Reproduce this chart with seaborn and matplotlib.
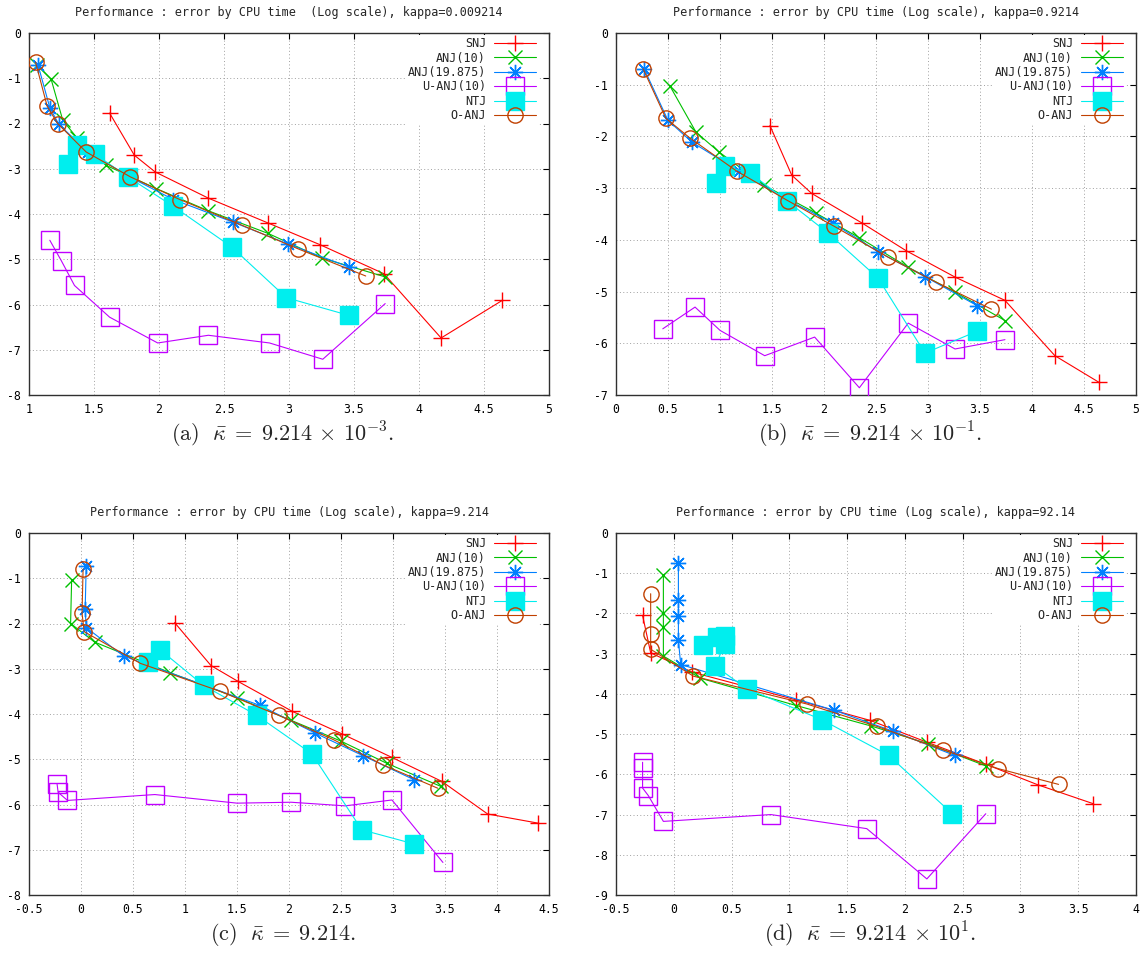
import numpy as np
import matplotlib
matplotlib.use("Agg")
import matplotlib.pyplot as plt
import seaborn as sns

# log10(CPU time) on x, log10(error) on y

# (a) kappa = 0.009214
A_SNJ_X = [1.62, 1.81, 1.97, 2.38, 2.84, 3.24, 3.73, 4.17, 4.64]
A_SNJ_Y = [-1.77, -2.70, -3.07, -3.65, -4.20, -4.68, -5.32, -6.74, -5.91]
A_ANJ10_X = [1.06, 1.17, 1.26, 1.37, 1.59, 1.98, 2.38, 2.84, 3.25, 3.74]
A_ANJ10_Y = [-0.70, -1.02, -1.93, -2.32, -2.92, -3.44, -3.93, -4.43, -4.97, -5.39]
A_ANJ19_X = [1.07, 1.16, 1.23, 1.45, 1.78, 2.11, 2.57, 2.99, 3.46]
A_ANJ19_Y = [-0.71, -1.65, -2.02, -2.62, -3.19, -3.68, -4.18, -4.66, -5.17]
A_UANJ_X = [1.16, 1.25, 1.35, 1.62, 1.99, 2.38, 2.85, 3.26, 3.74]
A_UANJ_Y = [-4.58, -5.04, -5.58, -6.28, -6.85, -6.68, -6.85, -7.21, -5.98]
A_NTJ_X = [1.30, 1.37, 1.51, 1.76, 2.11, 2.56, 2.98, 3.46]
A_NTJ_Y = [-2.89, -2.48, -2.68, -3.18, -3.83, -4.73, -5.85, -6.24]
A_OANJ_X = [1.05, 1.14, 1.22, 1.44, 1.78, 2.16, 2.64, 3.07, 3.59]
A_OANJ_Y = [-0.64, -1.62, -2.00, -2.63, -3.18, -3.68, -4.25, -4.77, -5.37]

# (b) kappa = 0.9214
B_SNJ_X = [1.48, 1.69, 1.88, 2.37, 2.79, 3.26, 3.74, 4.22, 4.64]
B_SNJ_Y = [-1.79, -2.75, -3.10, -3.68, -4.21, -4.72, -5.17, -6.24, -6.75]
B_ANJ10_X = [0.52, 0.77, 0.99, 1.42, 1.92, 2.34, 2.81, 3.26, 3.74]
B_ANJ10_Y = [-1.03, -1.92, -2.30, -2.94, -3.48, -3.96, -4.53, -5.01, -5.56]
B_ANJ19_X = [0.27, 0.50, 0.73, 1.18, 1.64, 2.09, 2.52, 2.97, 3.47]
B_ANJ19_Y = [-0.69, -1.69, -2.11, -2.67, -3.22, -3.68, -4.23, -4.71, -5.27]
B_UANJ_X = [0.45, 0.76, 1.00, 1.43, 1.91, 2.34, 2.81, 3.26, 3.74]
B_UANJ_Y = [-5.72, -5.30, -5.75, -6.24, -5.88, -6.86, -5.61, -6.11, -5.93]
B_NTJ_X = [0.96, 1.05, 1.29, 1.64, 2.04, 2.52, 2.97, 3.47]
B_NTJ_Y = [-2.90, -2.58, -2.71, -3.24, -3.87, -4.74, -6.19, -5.77]
B_OANJ_X = [0.26, 0.48, 0.71, 1.16, 1.65, 2.10, 2.62, 3.08, 3.61]
B_OANJ_Y = [-0.69, -1.65, -2.03, -2.67, -3.24, -3.74, -4.34, -4.82, -5.34]

# (c) kappa = 9.214
C_SNJ_X = [0.90, 1.25, 1.51, 2.03, 2.51, 2.99, 3.47, 3.91, 4.39]
C_SNJ_Y = [-1.98, -2.93, -3.28, -3.94, -4.44, -4.96, -5.49, -6.21, -6.41]
C_ANJ10_X = [-0.09, -0.10, 0.13, 0.86, 1.50, 2.02, 2.50, 2.94, 3.46]
C_ANJ10_Y = [-1.03, -2.00, -2.41, -3.09, -3.64, -4.14, -4.60, -5.09, -5.60]
C_ANJ19_X = [0.05, 0.04, 0.05, 0.41, 1.72, 2.25, 2.71, 3.20]
C_ANJ19_Y = [-0.74, -1.69, -2.09, -2.72, -3.81, -4.42, -4.92, -5.45]
C_UANJ_X = [-0.23, -0.22, -0.13, 0.71, 1.50, 2.02, 2.54, 2.99, 3.48]
C_UANJ_Y = [-5.55, -5.73, -5.91, -5.78, -5.97, -5.95, -6.03, -5.90, -7.28]
C_NTJ_X = [0.64, 0.76, 1.18, 1.69, 2.22, 2.70, 3.20]
C_NTJ_Y = [-2.85, -2.58, -3.37, -4.03, -4.88, -6.56, -6.87]
C_OANJ_X = [0.02, 0.01, 0.03, 0.57, 1.34, 1.90, 2.43, 2.90, 3.43]
C_OANJ_Y = [-0.80, -1.77, -2.18, -2.88, -3.50, -4.03, -4.57, -5.12, -5.64]

# (d) kappa = 92.14
D_SNJ_X = [-0.27, -0.20, 0.16, 1.06, 1.70, 2.19, 2.70, 3.15, 3.63]
D_SNJ_Y = [-2.05, -2.98, -3.46, -4.15, -4.66, -5.20, -5.75, -6.26, -6.73]
D_ANJ10_X = [-0.09, -0.09, -0.09, -0.09, 0.23, 1.06, 1.71, 2.20, 2.70]
D_ANJ10_Y = [-1.05, -1.99, -2.34, -3.06, -3.61, -4.29, -4.80, -5.24, -5.79]
D_ANJ19_X = [0.04, 0.04, 0.04, 0.04, 0.06, 1.39, 1.90, 2.43]
D_ANJ19_Y = [-0.75, -1.67, -2.07, -2.67, -3.27, -4.41, -4.93, -5.53]
D_UANJ_X = [-0.27, -0.27, -0.27, -0.22, -0.09, 0.84, 1.67, 2.19, 2.70]
D_UANJ_Y = [-5.70, -5.85, -6.34, -6.53, -7.17, -7.00, -7.35, -8.60, -6.98]
D_NTJ_X = [0.25, 0.37, 0.44, 0.44, 0.36, 0.63, 1.28, 1.86, 2.41]
D_NTJ_Y = [-2.79, -2.59, -2.57, -2.75, -3.31, -3.87, -4.64, -5.53, -6.98]
D_OANJ_X = [-0.20, -0.20, -0.20, 0.17, 1.15, 1.76, 2.33, 2.81, 3.33]
D_OANJ_Y = [-1.51, -2.50, -2.89, -3.56, -4.25, -4.81, -5.39, -5.86, -6.25]

NAMES = ["SNJ", "ANJ(10)", "ANJ(19.875)", "U-ANJ(10)", "NTJ", "O-ANJ"]
COLORS = ["#ff0000", "#00c000", "#0080ff", "#c000ff", "#00eeee", "#c04000"]
MARKERS = ["+", "x", (8, 2, 0), "s", "s", "o"]
SIZES = [11, 9.5, 11, 12.5, 12.5, 11]
FILLED = [False, False, False, False, True, False]

KAPPAS = ["0.009214", "0.9214", "9.214", "92.14"]
CAPTIONS = [r"$\mathrm{(a)}\ \ \bar{\kappa}\; =\; 9.214 \,\times\, 10^{-3}.$",
            r"$\mathrm{(b)}\ \ \bar{\kappa}\; =\; 9.214 \,\times\, 10^{-1}.$",
            r"$\mathrm{(c)}\ \ \bar{\kappa}\; =\; 9.214.$",
            r"$\mathrm{(d)}\ \ \bar{\kappa}\; =\; 9.214 \,\times\, 10^{1}.$"]
XLIMS = [(1, 5), (0, 5), (-0.5, 4.5), (-0.5, 4)]
YLIMS = [(-8, 0), (-7, 0), (-8, 0), (-9, 0)]

panels = [
    [(A_SNJ_X, A_SNJ_Y), (A_ANJ10_X, A_ANJ10_Y), (A_ANJ19_X, A_ANJ19_Y),
     (A_UANJ_X, A_UANJ_Y), (A_NTJ_X, A_NTJ_Y), (A_OANJ_X, A_OANJ_Y)],
    [(B_SNJ_X, B_SNJ_Y), (B_ANJ10_X, B_ANJ10_Y), (B_ANJ19_X, B_ANJ19_Y),
     (B_UANJ_X, B_UANJ_Y), (B_NTJ_X, B_NTJ_Y), (B_OANJ_X, B_OANJ_Y)],
    [(C_SNJ_X, C_SNJ_Y), (C_ANJ10_X, C_ANJ10_Y), (C_ANJ19_X, C_ANJ19_Y),
     (C_UANJ_X, C_UANJ_Y), (C_NTJ_X, C_NTJ_Y), (C_OANJ_X, C_OANJ_Y)],
    [(D_SNJ_X, D_SNJ_Y), (D_ANJ10_X, D_ANJ10_Y), (D_ANJ19_X, D_ANJ19_Y),
     (D_UANJ_X, D_UANJ_Y), (D_NTJ_X, D_NTJ_Y), (D_OANJ_X, D_OANJ_Y)],
]

sns.set_style("white")
plt.rcParams["font.family"] = ["DejaVu Sans Mono"]
plt.rcParams["axes.unicode_minus"] = False
plt.rcParams["mathtext.fontset"] = "cm"

fig = plt.figure(figsize=(11.45, 9.67), dpi=100)
W, H = 1145, 967
boxes = [(29, 33), (616, 33), (29, 533), (616, 533)]
aw, ah = 520, 362

for i, series in enumerate(panels):
    left, top = boxes[i]
    ax = fig.add_axes([left / W, 1 - (top + ah) / H, aw / W, ah / H])

    for k, (xs, ys) in enumerate(series):
        c = COLORS[k]
        sns.lineplot(x=xs, y=ys, ax=ax, sort=False, estimator=None,
                     color=c, lw=0.8, marker=MARKERS[k], markersize=SIZES[k],
                     markeredgecolor=c, markeredgewidth=1.0,
                     markerfacecolor=c if FILLED[k] else "none",
                     label=NAMES[k], zorder=3 + k)

    x0, x1 = XLIMS[i]
    y0, y1 = YLIMS[i]
    ax.set_xlim(x0, x1)
    ax.set_ylim(y0, y1)
    ax.set_xticks(np.round(np.arange(x0, x1 + 0.01, 0.5), 2))
    ax.set_yticks(np.arange(y0, y1 + 0.5, 1))
    ax.xaxis.set_major_formatter(plt.FuncFormatter(lambda v, p: f"{v:g}"))
    ax.yaxis.set_major_formatter(plt.FuncFormatter(lambda v, p: f"{v:g}"))
    ax.tick_params(direction="in", length=4, width=0.8, top=True, right=True,
                   labelsize=8.3, pad=6, colors="black")
    ax.grid(True, color="#a0a0a0", lw=0.7, ls=(0, (1, 2.5)))
    ax.set_axisbelow(True)
    for sp in ax.spines.values():
        sp.set_color("#303030")
        sp.set_linewidth(1.0)
    ax.set_xlabel("")
    ax.set_ylabel("")

    gap = "  " if i == 0 else " "
    ax.set_title(f"Performance : error by CPU time{gap}(Log scale), kappa={KAPPAS[i]}",
                 fontsize=8.5, pad=12)

    ax.legend(loc="upper right", bbox_to_anchor=(0.979, 0.995),
              markerfirst=False, frameon=True,
              facecolor="white", edgecolor="none", framealpha=1,
              fancybox=False, handlelength=3.5, labelspacing=0.12,
              borderpad=0.2, borderaxespad=0.0, handletextpad=0.7,
              fontsize=8.5, numpoints=1)

    fig.text((left + aw / 2 - 6) / W, 1 - (top + ah + 40) / H, CAPTIONS[i],
             ha="center", va="center", fontsize=16)

fig.savefig("out.png", dpi=100)
